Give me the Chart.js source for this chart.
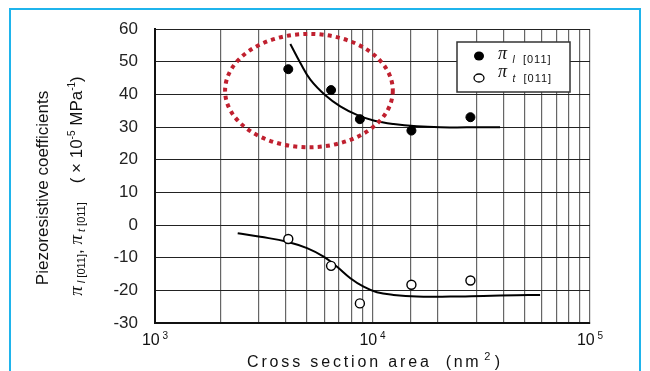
<!DOCTYPE html>
<html>
<head>
<meta charset="utf-8">
<script src="https://cdn.jsdelivr.net/npm/chart.js@4.4.1/dist/chart.umd.min.js"></script>
<style>
html, body { margin: 0; padding: 0; background: #fff; }
#wrap { width: 650px; height: 371px; }
</style>
</head>
<body>
<div id="wrap"><canvas id="chart" width="650" height="371"></canvas></div>
<script>
// measured points (cross section area in nm2, coefficient in 1e-5 MPa-1)
const areaL = [4100, 6450, 8750, 15100, 28200];
const piL = [47.7, 41.3, 32.4, 28.9, 33.0];
const areaT = [4100, 6450, 8750, 15100, 28200];
const piT = [-4.3, -12.5, -24.0, -18.3, -17.0];

// hand drawn trend curves
const fitAreaL = [4190, 4660, 5180, 6070, 7110, 8480, 10110, 12500, 16000, 20470, 27150, 38600];
const fitL = [55.4, 49.6, 44.5, 39.7, 36.3, 33.7, 32.0, 30.9, 30.2, 29.9, 29.9, 29.9];
const fitAreaT = [2400, 3050, 4050, 5000, 5960, 6870, 7910, 9100, 10480, 12500, 16000, 22760, 32360, 46060, 58940];
const fitT = [-2.5, -3.6, -5.1, -7.1, -9.7, -12.8, -16.3, -18.9, -20.6, -21.4, -21.9, -21.9, -21.7, -21.5, -21.4];

const xDecades = [1000, 10000, 100000];
const xExponents = ['3', '4', '5'];

// red dotted ring: area from/to, coefficient from/to
const ringArea = [2100, 12400];
const ringPi = [23.8, 58.5];

const toPoints = (xs, ys) => xs.map((x, i) => ({ x: x, y: ys[i] }));

const SANS = '"Liberation Sans", Arial, sans-serif';
const SERIF = '"Liberation Serif", "Times New Roman", serif';

function measureRuns(ctx, runs) {
    let w = 0;
    runs.forEach(r => {
        ctx.font = r.f;
        ctx.letterSpacing = r.ls || '0px';
        w += ctx.measureText(r.t).width;
    });
    ctx.letterSpacing = '0px';
    return w;
}

function drawRuns(ctx, runs, x, y) {
    runs.forEach(r => {
        ctx.font = r.f;
        ctx.letterSpacing = r.ls || '0px';
        ctx.fillText(r.t, x, y + (r.dy || 0));
        x += ctx.measureText(r.t).width;
    });
    ctx.letterSpacing = '0px';
}

const decor = {
    id: 'decor',
    beforeDraw(chart) {
        const ctx = chart.ctx;
        ctx.save();
        ctx.strokeStyle = '#1fb4ec';
        ctx.lineWidth = 2;
        ctx.strokeRect(10, 9, 630, 420);
        ctx.restore();
    },
    afterDatasetsDraw(chart) {
        const ctx = chart.ctx;
        const xs = chart.scales.x, ys = chart.scales.y;
        const x0 = xs.getPixelForValue(ringArea[0]), x1 = xs.getPixelForValue(ringArea[1]);
        const y0 = ys.getPixelForValue(ringPi[1]), y1 = ys.getPixelForValue(ringPi[0]);
        ctx.save();
        ctx.strokeStyle = '#c0202f';
        ctx.lineWidth = 4;
        ctx.setLineDash([4, 4.2]);
        ctx.beginPath();
        ctx.ellipse((x0 + x1) / 2, (y0 + y1) / 2, (x1 - x0) / 2, (y1 - y0) / 2, 0, 0, Math.PI * 2);
        ctx.stroke();
        ctx.restore();
    },
    afterDraw(chart) {
        const ctx = chart.ctx;
        const xs = chart.scales.x;
        ctx.save();
        ctx.fillStyle = '#111';
        ctx.textBaseline = 'alphabetic';

        // x decade labels
        xDecades.forEach((d, i) => {
            const px = xs.getPixelForValue(d);
            const runs = [
                { t: '10', f: '16px ' + SANS },
                { t: ' ' + xExponents[i], f: '10px ' + SANS, dy: -6 }
            ];
            const w = measureRuns(ctx, runs);
            drawRuns(ctx, runs, px - w / 2, 345);
        });

        // x title
        drawRuns(ctx, [
            { t: 'Cross section area', f: '16px ' + SANS, ls: '2.85px' },
            { t: '  (nm', f: '16px ' + SANS, ls: '2.6px' },
            { t: ' 2', f: '11px ' + SANS, dy: -7 },
            { t: ' )', f: '16px ' + SANS }
        ], 247, 367);

        // y titles
        ctx.save();
        ctx.translate(48, 188);
        ctx.rotate(-Math.PI / 2);
        const yt1 = [{ t: 'Piezoresistive coefficients', f: '17px ' + SANS }];
        drawRuns(ctx, yt1, -measureRuns(ctx, yt1) / 2, 0);
        ctx.restore();

        ctx.save();
        ctx.translate(82, 186);
        ctx.rotate(-Math.PI / 2);
        const yt2 = [
            { t: 'π', f: 'italic 19px ' + SERIF },
            { t: ' l', f: 'italic 11px ' + SANS, dy: 3 },
            { t: ' [011]', f: '11px ' + SANS, dy: 3 },
            { t: ', ', f: '17px ' + SANS },
            { t: 'π', f: 'italic 19px ' + SERIF },
            { t: ' t', f: 'italic 11px ' + SANS, dy: 3 },
            { t: ' [011]', f: '11px ' + SANS, dy: 3 },
            { t: '    ( × 10', f: '17px ' + SANS },
            { t: '-5', f: '10px ' + SANS, dy: -7 },
            { t: ' MPa', f: '17px ' + SANS },
            { t: '-1', f: '10px ' + SANS, dy: -7 },
            { t: ')', f: '17px ' + SANS }
        ];
        drawRuns(ctx, yt2, -measureRuns(ctx, yt2) / 2, 0);
        ctx.restore();

        // legend
        ctx.fillStyle = '#fff';
        ctx.fillRect(457, 42, 113, 50);
        ctx.strokeStyle = '#333';
        ctx.lineWidth = 1.5;
        ctx.strokeRect(457, 42, 113, 50);

        ctx.fillStyle = '#000';
        ctx.beginPath();
        ctx.ellipse(479, 56, 5, 4.5, 0, 0, Math.PI * 2);
        ctx.fill();
        ctx.beginPath();
        ctx.ellipse(479, 78, 5, 4, 0, 0, Math.PI * 2);
        ctx.fillStyle = '#fff';
        ctx.fill();
        ctx.strokeStyle = '#000';
        ctx.lineWidth = 1.3;
        ctx.stroke();

        ctx.fillStyle = '#111';
        drawRuns(ctx, [
            { t: 'π', f: 'italic 18px ' + SERIF },
            { t: '  l', f: 'italic 10px ' + SANS, dy: 4 },
            { t: '  [011]', f: '11px ' + SANS, dy: 4, ls: '1px' }
        ], 498, 59);
        drawRuns(ctx, [
            { t: 'π', f: 'italic 18px ' + SERIF },
            { t: '  t', f: 'italic 10px ' + SANS, dy: 5 },
            { t: '  [011]', f: '11px ' + SANS, dy: 5, ls: '1px' }
        ], 498, 77);
        ctx.restore();
    }
};

const ctx = document.getElementById('chart');

new Chart(ctx, {
    type: 'scatter',
    data: {
        datasets: [
            {
                data: toPoints(areaL, piL),
                pointRadius: 4.5,
                backgroundColor: '#000',
                borderColor: '#000'
            },
            {
                data: toPoints(areaT, piT),
                pointRadius: 4.5,
                backgroundColor: '#fff',
                borderColor: '#000',
                borderWidth: 1.4
            },
            {
                data: toPoints(fitAreaL, fitL),
                showLine: true,
                borderColor: '#000',
                borderWidth: 2,
                pointRadius: 0,
                tension: 0.4
            },
            {
                data: toPoints(fitAreaT, fitT),
                showLine: true,
                borderColor: '#000',
                borderWidth: 2,
                pointRadius: 0,
                tension: 0.4
            }
        ]
    },
    options: {
        responsive: false,
        animation: false,
        layout: { padding: { top: 29, right: 60, left: 0, bottom: 0 } },
        plugins: {
            legend: { display: false },
            tooltip: { enabled: false }
        },
        scales: {
            x: {
                type: 'logarithmic',
                min: 1000,
                max: 100000,
                grid: { color: '#666', lineWidth: 1.2, drawTicks: false },
                border: { color: '#111', width: 2 },
                ticks: { display: false },
                afterFit: s => { s.height = 48; }
            },
            y: {
                min: -30,
                max: 60,
                ticks: {
                    stepSize: 10,
                    color: '#222',
                    padding: 17,
                    font: { family: SANS, size: 17 }
                },
                grid: { color: '#222', lineWidth: 1, drawTicks: false },
                border: { color: '#111', width: 2 },
                afterFit: s => { s.width = 155; }
            }
        }
    },
    plugins: [decor]
});
</script>
</body>
</html>
